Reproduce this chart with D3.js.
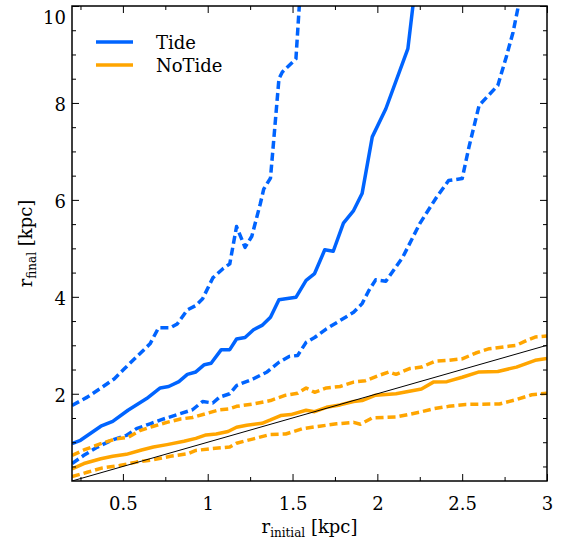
<!DOCTYPE html>
<html>
<head>
<meta charset="utf-8">
<script src="https://cdn.jsdelivr.net/npm/d3@7"></script>
<style>
  body { margin: 0; background: #fff; }
  text { font-family: "DejaVu Serif", serif; fill: #000; }
</style>
</head>
<body>
<svg id="chart" width="566" height="543"></svg>
<script>
// r_final vs r_initial
const tideMidX = [0.2,0.25,0.37,0.44,0.53,0.64,0.72,0.77,0.83,0.88,0.93,0.98,1.02,1.08,1.13,1.17,1.22,1.27,1.32,1.37,1.42,1.52,1.58,1.63,1.69,1.74,1.8,1.86,1.91,1.97,2.05,2.18,2.21,2.23];
const tideMidY = [0.97,1.04,1.33,1.43,1.66,1.9,2.12,2.15,2.25,2.4,2.45,2.6,2.63,2.91,2.91,3.13,3.16,3.32,3.41,3.58,3.94,3.99,4.34,4.48,4.97,4.94,5.52,5.78,6.13,7.3,7.88,9.12,10.01,11.5];

const tideHiX = [0.2,0.29,0.38,0.45,0.51,0.58,0.66,0.71,0.78,0.82,0.88,0.93,0.97,1.03,1.09,1.13,1.17,1.22,1.26,1.31,1.33,1.37,1.42,1.44,1.52,1.54,1.56];
const tideHiY = [1.76,1.93,2.14,2.31,2.52,2.76,3.03,3.36,3.36,3.44,3.73,3.82,3.96,4.39,4.58,4.68,5.45,5.02,5.25,5.92,6.22,6.45,8.5,8.64,8.91,10.01,11.5];

const tideLoX = [0.2,0.27,0.35,0.44,0.52,0.58,0.66,0.74,0.82,0.91,0.97,1.03,1.07,1.13,1.17,1.27,1.35,1.42,1.48,1.53,1.58,1.63,1.7,1.78,1.86,1.91,1.95,1.99,2.05,2.15,2.25,2.35,2.42,2.5,2.54,2.6,2.71,2.76,2.8,2.83,2.85];
const tideLoY = [0.56,0.73,0.9,1.05,1.14,1.28,1.38,1.48,1.57,1.67,1.84,1.81,1.93,2.0,2.17,2.31,2.45,2.65,2.77,2.79,3.06,3.16,3.34,3.51,3.68,3.86,4.13,4.35,4.32,4.82,5.51,6.06,6.4,6.44,7.09,7.95,8.36,8.95,9.46,9.98,11];

const noTideMidX = [0.2,0.27,0.37,0.44,0.52,0.61,0.68,0.76,0.86,0.93,0.99,1.05,1.12,1.17,1.23,1.32,1.37,1.43,1.49,1.58,1.63,1.7,1.78,1.86,1.91,1.99,2.11,2.26,2.33,2.41,2.5,2.6,2.71,2.82,2.93,3.0];
const noTideMidY = [0.45,0.56,0.66,0.71,0.75,0.84,0.9,0.95,1.02,1.08,1.15,1.17,1.22,1.31,1.35,1.39,1.46,1.55,1.57,1.66,1.63,1.72,1.77,1.84,1.86,1.97,2.0,2.1,2.24,2.25,2.34,2.45,2.46,2.55,2.69,2.73];

const noTideHiX = [0.2,0.27,0.37,0.46,0.53,0.6,0.68,0.76,0.84,0.91,0.99,1.07,1.13,1.17,1.27,1.37,1.46,1.53,1.58,1.63,1.7,1.78,1.86,1.93,2.01,2.07,2.11,2.19,2.26,2.34,2.42,2.5,2.58,2.66,2.82,2.88,2.93,3.0];
const noTideHiY = [0.73,0.84,0.97,1.07,1.1,1.24,1.33,1.41,1.48,1.51,1.59,1.67,1.69,1.74,1.79,1.86,1.97,2.01,2.12,2.03,2.12,2.15,2.24,2.27,2.38,2.45,2.4,2.52,2.55,2.67,2.69,2.72,2.84,2.93,3.0,3.1,3.17,3.19];

const noTideLoX = [0.2,0.29,0.38,0.48,0.58,0.68,0.78,0.88,0.93,1.03,1.13,1.17,1.27,1.37,1.46,1.56,1.66,1.76,1.86,1.9,1.97,2.11,2.25,2.33,2.42,2.52,2.72,2.82,2.91,3.0];
const noTideLoY = [0.29,0.38,0.47,0.52,0.59,0.64,0.71,0.76,0.83,0.87,0.9,0.98,1.07,1.16,1.17,1.28,1.33,1.38,1.41,1.37,1.5,1.52,1.62,1.69,1.74,1.78,1.79,1.88,1.98,2.01];

const oneToOne = [0.2, 3.0];

const xTicks = [0.5, 1, 1.5, 2, 2.5, 3];
const yTicks = [2, 4, 6, 8, 10];
const legendNames = ["Tide", "NoTide"];

const blue = "#0064ff";
const orange = "#ffa500";

const width = 566, height = 543;
const margin = { top: 6, right: 19, bottom: 62, left: 72 };
const innerW = width - margin.left - margin.right;
const innerH = height - margin.top - margin.bottom;

const svg = d3.select("#chart");

const x = d3.scaleLinear().domain([0.2, 3]).range([0, innerW]);
const y = d3.scaleLinear().domain([0.2, 10]).range([innerH, 0]);

const g = svg.append("g").attr("transform", `translate(${margin.left},${margin.top})`);

g.append("clipPath").attr("id", "clip")
  .append("rect").attr("width", innerW).attr("height", innerH);

const series = [
  { xs: tideMidX, ys: tideMidY, color: blue, dash: null },
  { xs: tideHiX, ys: tideHiY, color: blue, dash: "8,4" },
  { xs: tideLoX, ys: tideLoY, color: blue, dash: "8,4" },
  { xs: noTideMidX, ys: noTideMidY, color: orange, dash: null },
  { xs: noTideHiX, ys: noTideHiY, color: orange, dash: "8,4" },
  { xs: noTideLoX, ys: noTideLoY, color: orange, dash: "8,4" }
];

const line = d3.line().x(d => x(d[0])).y(d => y(d[1]));
const plot = g.append("g").attr("clip-path", "url(#clip)");

series.forEach(s => {
  plot.append("path")
    .datum(s.xs.map((v, i) => [v, s.ys[i]]))
    .attr("d", line)
    .attr("fill", "none")
    .attr("stroke", s.color)
    .attr("stroke-width", 3.5)
    .attr("stroke-linejoin", "round")
    .attr("stroke-dasharray", s.dash);
});

plot.append("path")
  .datum(oneToOne.map(v => [v, v]))
  .attr("d", line)
  .attr("fill", "none")
  .attr("stroke", "#000")
  .attr("stroke-width", 1);

// axes, ticks pointing inward
const minorX = d3.range(0.25, 3.01, 0.25).filter(v => Math.abs(v * 2 - Math.round(v * 2)) > 0.01);
const minorY = d3.range(0.5, 10.01, 0.5).filter(v => Math.abs(v / 2 - Math.round(v / 2)) > 0.01);

function styleAxis(sel) {
  sel.select(".domain").remove();
  sel.selectAll(".tick line").attr("stroke", "#000").attr("stroke-width", 1);
  sel.selectAll(".tick text").attr("font-size", 18);
}

const xAxis = g.append("g").attr("transform", `translate(0,${innerH})`)
  .call(d3.axisBottom(x).tickValues(xTicks).tickSize(-7).tickPadding(16).tickFormat(d3.format("")));
styleAxis(xAxis);
g.append("g").attr("transform", `translate(0,${innerH})`)
  .call(d3.axisBottom(x).tickValues(minorX).tickSize(-4).tickFormat(""))
  .call(styleAxis);
g.append("g").call(d3.axisTop(x).tickValues(xTicks).tickSize(-7).tickFormat("")).call(styleAxis);
g.append("g").call(d3.axisTop(x).tickValues(minorX).tickSize(-4).tickFormat("")).call(styleAxis);

const yAxis = g.append("g")
  .call(d3.axisLeft(y).tickValues(yTicks).tickSize(-7).tickPadding(6).tickFormat(d3.format("")));
styleAxis(yAxis);
yAxis.selectAll(".tick text").attr("dy", d => d === 10 ? "0.95em" : "0.42em");
g.append("g").call(d3.axisLeft(y).tickValues(minorY).tickSize(-4).tickFormat("")).call(styleAxis);
g.append("g").attr("transform", `translate(${innerW},0)`)
  .call(d3.axisRight(y).tickValues(yTicks).tickSize(-7).tickFormat("")).call(styleAxis);
g.append("g").attr("transform", `translate(${innerW},0)`)
  .call(d3.axisRight(y).tickValues(minorY).tickSize(-4).tickFormat("")).call(styleAxis);

g.append("rect")
  .attr("width", innerW).attr("height", innerH)
  .attr("fill", "none").attr("stroke", "#000").attr("stroke-width", 1.5);

// axis titles
const xt = svg.append("text")
  .attr("x", margin.left + innerW / 2).attr("y", 533)
  .attr("text-anchor", "middle").attr("font-size", 18);
xt.append("tspan").text("r");
xt.append("tspan").attr("font-size", 12).attr("dy", 4).text("initial");
xt.append("tspan").attr("dy", -4).text(" [kpc]");

const yt = svg.append("text")
  .attr("transform", `translate(32,${margin.top + innerH / 2}) rotate(-90)`)
  .attr("text-anchor", "middle").attr("font-size", 18);
yt.append("tspan").text("r");
yt.append("tspan").attr("font-size", 12).attr("dy", 4).text("final");
yt.append("tspan").attr("dy", -4).text(" [kpc]");

// legend
const legend = svg.append("g");
legendNames.forEach((name, i) => {
  const ly = 42 + i * 23;
  legend.append("line")
    .attr("x1", 96).attr("x2", 133).attr("y1", ly).attr("y2", ly)
    .attr("stroke", i === 0 ? blue : orange).attr("stroke-width", 3.5);
  legend.append("text")
    .attr("x", 156).attr("y", ly + 6.5)
    .attr("font-size", 18).text(name);
});
</script>
</body>
</html>
